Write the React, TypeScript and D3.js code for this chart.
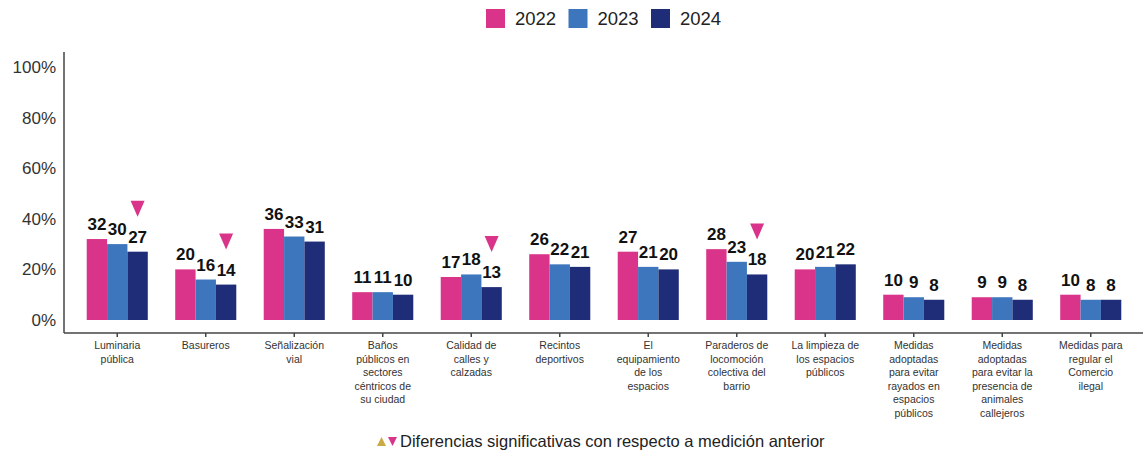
import React from "react";
import * as d3 from "d3";

const categories: string[][] = [
  ["Luminaria", "pública"],
  ["Basureros"],
  ["Señalización", "vial"],
  ["Baños", "públicos en", "sectores", "céntricos de", "su ciudad"],
  ["Calidad de", "calles y", "calzadas"],
  ["Recintos", "deportivos"],
  ["El", "equipamiento", "de los", "espacios"],
  ["Paraderos de", "locomoción", "colectiva del", "barrio"],
  ["La limpieza de", "los espacios", "públicos"],
  ["Medidas", "adoptadas", "para evitar", "rayados en", "espacios", "públicos"],
  ["Medidas", "adoptadas", "para evitar la", "presencia de", "animales", "callejeros"],
  ["Medidas para", "regular el", "Comercio", "ilegal"],
];
const years = ["2022", "2023", "2024"];
const v2022 = [32, 20, 36, 11, 17, 26, 27, 28, 20, 10, 9, 10];
const v2023 = [30, 16, 33, 11, 18, 22, 21, 23, 21, 9, 9, 8];
const v2024 = [27, 14, 31, 10, 13, 21, 20, 18, 22, 8, 8, 8];
// significance markers on 2024 vs 2023: "down" or ""
const sig2024 = ["down", "down", "", "", "down", "", "", "down", "", "", "", ""];
const yTicks = [0, 20, 40, 60, 80, 100];
const footnote = "Diferencias significativas con respecto a medición anterior";

const colors = ["#d9348a", "#3d76bd", "#1f2c77"];
const pink = "#d9348a";
const gold = "#c9aa45";
const font = "Liberation Sans, Arial, Helvetica, sans-serif";

export default function App() {
  const W = 1148, H = 452;
  const series = [v2022, v2023, v2024];
  const idx = categories.map((_, i) => String(i));
  const x0 = d3.scaleBand<string>().domain(idx).range([73, 1135]).paddingInner(0.31).paddingOuter(0.155);
  const x1 = d3.scaleBand<string>().domain(years).range([0, x0.bandwidth()]);
  const y = d3.scaleLinear().domain([0, 100]).range([320, 67]);
  const axisY = 333;
  const axisX = 64;

  return (
    <svg width={W} height={H} style={{ position: "absolute", left: 0, top: 0, background: "#fff" }} fontFamily={font}>
      <rect x={0} y={0} width={W} height={H} fill="#fff" />
      {/* legend */}
      {years.map((yr, i) => (
        <g key={yr} transform={`translate(${486 + i * 82.5},0)`}>
          <rect x={0} y={9} width={19} height={19} fill={colors[i]} />
          <text x={29} y={25} fontSize={18.5} fill="#222">{yr}</text>
        </g>
      ))}
      {/* y tick labels */}
      {yTicks.map((t) => (
        <text key={t} x={56} y={y(t)} dy="0.35em" textAnchor="end" fontSize={17} fill="#333">
          {t}%
        </text>
      ))}
      {/* axes */}
      <line x1={axisX} x2={axisX} y1={52} y2={axisY} stroke="#444" strokeWidth={1.5} />
      <line x1={axisX} x2={1143} y1={axisY} y2={axisY} stroke="#444" strokeWidth={1.5} />
      {idx.map((k) => {
        const cx = (x0(k) as number) + x0.bandwidth() / 2;
        return <line key={"t" + k} x1={cx} x2={cx} y1={axisY} y2={axisY + 4} stroke="#444" strokeWidth={1.5} />;
      })}
      {/* bars */}
      {idx.map((k, i) => (
        <g key={"g" + k} transform={`translate(${x0(k)},0)`}>
          {years.map((yr, s) => {
            const v = series[s][i];
            const bx = x1(yr) as number;
            const bw = x1.bandwidth();
            return (
              <g key={yr}>
                <rect x={bx} y={y(v)} width={bw} height={y(0) - y(v)} fill={colors[s]} />
                <text x={bx + bw / 2} y={y(v) - 9} textAnchor="middle" fontSize={17} fontWeight="bold" fill="#111">
                  {v}
                </text>
              </g>
            );
          })}
          {sig2024[i] === "down" && (() => {
            const bx = (x1("2024") as number) + x1.bandwidth() / 2;
            const top = y(v2024[i]);
            return <path d={`M${bx - 7},${top - 51} L${bx + 7},${top - 51} L${bx},${top - 35} Z`} fill={pink} />;
          })()}
        </g>
      ))}
      {/* category labels */}
      {idx.map((k, i) => {
        const cx = (x0(k) as number) + x0.bandwidth() / 2;
        return (
          <text key={"c" + k} x={cx} y={349} textAnchor="middle" fontSize={10.5} fill="#333">
            {categories[i].map((ln, j) => (
              <tspan key={j} x={cx} dy={j === 0 ? 0 : 13.6}>
                {ln}
              </tspan>
            ))}
          </text>
        );
      })}
      {/* footnote */}
      <path d="M377,446 L386,446 L381.5,437 Z" fill={gold} />
      <path d="M388,437 L397,437 L392.5,446 Z" fill={pink} />
      <text x={400} y={447} fontSize={16.5} fill="#222">{footnote}</text>
    </svg>
  );
}
